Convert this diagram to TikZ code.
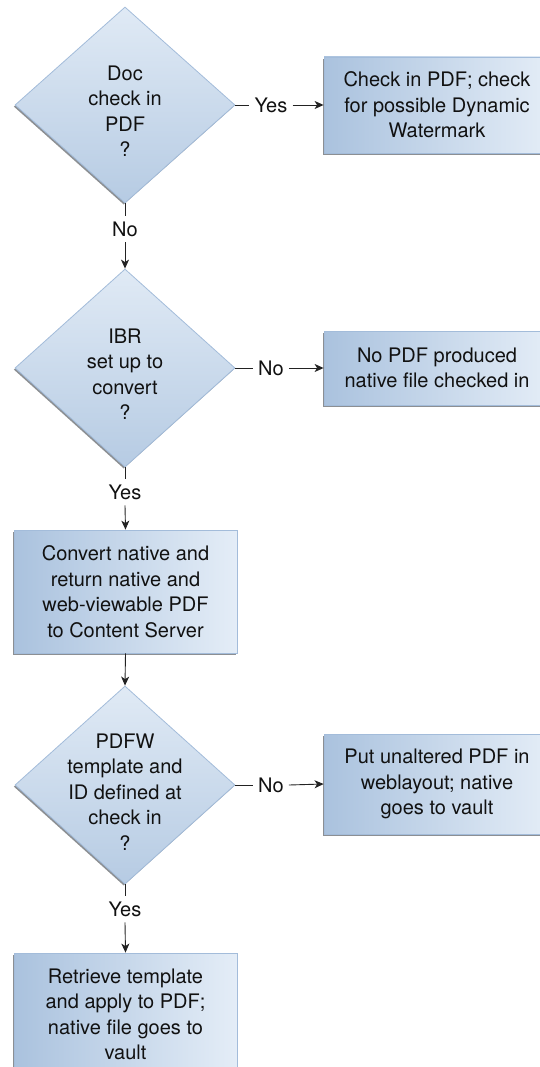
\documentclass[tikz,border=0pt]{standalone}
\usepackage{fontspec}
\setmainfont{TeX Gyre Heros}
\usetikzlibrary{shapes.geometric,shadows,arrows.meta}
\definecolor{edgeblue}{HTML}{A3BCDA}
\definecolor{dtop}{HTML}{E0EAF5}
\definecolor{dbot}{HTML}{B6CBE3}
\definecolor{bleft}{HTML}{AAC2DE}
\definecolor{bright}{HTML}{E4EDF7}
\definecolor{shadowgray}{HTML}{7F8387}
\definecolor{txtcol}{HTML}{111111}
\definecolor{linecol}{HTML}{222222}
\begin{document}
\begin{tikzpicture}[x=1pt,y=1pt,
  shadowstyle/.style={drop shadow={shadow xshift=-1.3pt, shadow yshift=-1.6pt, fill=shadowgray, opacity=0.9}},
  decision/.style={diamond, minimum width=220pt, minimum height=196pt, inner sep=0pt,
    draw=edgeblue, line width=0.8pt, top color=dtop, bottom color=dbot, shadowstyle},
  procbox/.style={rectangle, draw=edgeblue, line width=0.8pt, left color=bleft, right color=bright,
    shadowstyle, align=center, inner sep=0pt, text=txtcol,
    font=\fontsize{20}{25.5}\selectfont},
  dtext/.style={align=center, inner sep=0pt, text=txtcol, font=\fontsize{20}{25.5}\selectfont},
  lbl/.style={text=txtcol, font=\fontsize{20}{24}\selectfont, inner xsep=5pt, inner ysep=6pt,
    text height=14.5pt, text depth=0pt},
  conn/.style={draw=linecol, line width=0.9pt},
  arr/.style={conn, -{Stealth[length=9pt,width=8pt,inset=2.5pt]}}
]
\useasboundingbox (0,0) rectangle (539,-1067);

% Decision 1
\node[decision] (d1) at (125,-105) {};
\node[dtext, yshift=-6pt] (d1t) at (d1.center) {Doc\\check in\\PDF\\?};
\node[procbox, minimum width=226pt, minimum height=96pt] (b1) at (437,-105)
  {Check in PDF; check\\for possible Dynamic\\Watermark};
\node[lbl] (yes1) at (271,-105) {Yes};
\draw[conn] (d1.east) -- (yes1.west);
\draw[arr] (yes1.east) -- (b1.west);

\node[lbl] (no1) at (125,-229) {No};
\draw[conn] (d1.south) -- (no1.north);

% Decision 2
\node[decision, minimum height=198pt] (d2) at (125,-368) {};
\node[dtext, yshift=-6pt] (d2t) at (d2.center) {IBR\\set up to\\convert\\?};
\draw[arr] (no1.south) -- (d2.north);
\node[procbox, minimum width=226pt, minimum height=74pt] (b2) at (437,-368)
  {No PDF produced\\native file checked in};
\node[lbl] (no2) at (271,-368) {No};
\draw[conn] (d2.east) -- (no2.west);
\draw[arr] (no2.east) -- (b2.west);

\node[lbl] (yes2) at (125,-492) {Yes};
\draw[conn] (d2.south) -- (yes2.north);

% Process 3
\node[procbox, minimum width=223pt, minimum height=123pt] (b3) at (125.5,-591.5)
  {Convert native and\\return native and\\web-viewable PDF\\to Content Server};
\draw[arr] (yes2.south) -- (b3.north);

% Decision 3
\node[decision, minimum height=198pt] (d3) at (125,-785) {};
\node[dtext, yshift=-7pt] (d3t) at (d3.center) {PDFW\\template and\\ID defined at\\check in\\?};
\draw[arr] (b3.south) -- (d3.north);
\node[procbox, minimum width=226pt, minimum height=100pt] (b4) at (437,-784)
  {Put unaltered PDF in\\weblayout; native\\goes to vault};
\node[lbl] (no3) at (271,-785) {No};
\draw[conn] (d3.east) -- (no3.west);
\draw[arr] (no3.east) -- (b4.west);

\node[lbl] (yes3) at (125,-909) {Yes};
\draw[conn] (d3.south) -- (yes3.north);

% Process 5
\node[procbox, minimum width=223pt, minimum height=123pt] (b5) at (125.5,-1014.5)
  {Retrieve template\\and apply to PDF;\\native file goes to\\vault};
\draw[arr] (yes3.south) -- (b5.north);
\end{tikzpicture}
\end{document}
